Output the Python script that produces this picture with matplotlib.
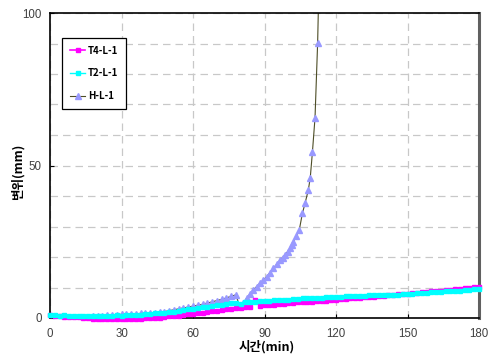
import numpy as np
from matplotlib import pyplot as plt
from matplotlib.ticker import MultipleLocator

# time (min) for the two dense series, one reading every 2 min
t_dense = list(range(0, 181, 2))

t4_l1 = [1.0, 0.8, 0.6, 0.4, 0.3, 0.3, 0.2, 0.1, 0.0, -0.2,
         -0.3, -0.3, -0.4, -0.3, -0.4, -0.3, -0.3, -0.2, -0.3, -0.2,
         -0.1, -0.1, 0.0, 0.1, 0.3, 0.5, 0.6, 0.8, 1.0, 1.2,
         1.4, 1.6, 1.8, 2.0, 2.2, 2.4, 2.6, 2.8, 3.0, 3.2,
         3.4, 3.5, 3.6, 5.9, 4.0, 4.2, 4.3, 4.4, 4.6, 4.7,
         4.8, 4.9, 5.1, 5.2, 5.3, 5.4, 5.5, 5.6, 5.7, 5.9,
         6.0, 6.1, 6.2, 6.4, 6.5, 6.6, 6.8, 6.9, 7.0, 7.2,
         7.3, 7.4, 7.6, 7.8, 7.9, 8.0, 8.2, 8.3, 8.4, 8.6,
         8.7, 8.8, 9.0, 9.1, 9.3, 9.4, 9.6, 9.7, 9.9, 10.1,
         10.3]

t2_l1 = [1.0, 0.9, 0.7, 0.9, 0.6, 0.8, 0.5, 0.7, 0.6, 0.5,
         0.7, 0.6, 0.8, 0.7, 0.9, 0.8, 1.0, 0.9, 1.1, 1.0,
         1.3, 1.4, 1.5, 1.6, 1.8, 1.9, 2.1, 2.3, 2.6, 2.8,
         3.0, 3.2, 3.5, 3.7, 4.0, 4.2, 4.4, 4.6, 4.8, 4.9,
         4.6, 5.1, 5.2, 5.3, 5.5, 5.6, 5.7, 5.8, 5.9, 6.0,
         6.0, 6.1, 6.3, 6.4, 6.5, 6.6, 6.6, 6.7, 6.8, 6.9,
         7.0, 7.0, 7.1, 7.1, 7.2, 7.3, 7.3, 7.4, 7.4, 7.5,
         7.6, 7.6, 7.7, 7.7, 7.8, 7.9, 8.0, 8.1, 8.2, 8.3,
         8.4, 8.5, 8.6, 8.7, 8.8, 8.9, 9.0, 9.2, 9.3, 9.5,
         9.6]

t_h = [0, 2, 4, 6, 8, 10, 12, 14, 16, 18,
       20, 22, 24, 26, 28, 30, 32, 34, 36, 38,
       40, 42, 44, 46, 48, 50, 52, 54, 56, 58,
       60, 62, 64, 66, 68, 70, 72, 74, 76, 78,
       79.5, 81, 82.5, 84, 85.3, 86.7, 88, 89.5, 90.9, 92.3,
       93.7, 95.1, 96.5, 97.6, 98.6, 99.7, 100.7, 101.4, 102.1, 103.4,
       104.6, 105.9, 107, 108.4, 109.2, 110.1, 111.2, 112.3, 112.7]
h_l1 = [0.1, 0.0, -0.1, 0.0, 0.1, 0.0, -0.1, 0.0, 0.2, 0.5,
        0.7, 0.8, 0.9, 1.0, 1.1, 1.2, 1.2, 1.3, 1.4, 1.5,
        1.5, 1.6, 1.7, 1.9, 2.1, 2.4, 2.7, 3.0, 3.3, 3.6,
        3.9, 4.2, 4.5, 4.9, 5.3, 5.7, 6.1, 6.6, 7.1, 7.6,
        4.0, 4.8, 6.5, 8.0, 9.2, 10.3, 11.4, 12.4, 13.5, 14.9,
        16.3, 17.6, 19.0, 19.8, 20.7, 21.8, 22.9, 23.9, 25.0, 27.0,
        28.9, 34.3, 37.6, 42.0, 46.0, 54.3, 65.7, 90.3, 105.0]

korean = ["Noto Sans CJK KR", "DejaVu Sans"]

fig = plt.figure(figsize=(4.89, 3.56), dpi=100)
ax = fig.add_axes([50 / 489, 1 - 318 / 356, 429 / 489, 305 / 356])

ax.plot(t_h, h_l1, color="#4d4d26", linewidth=0.8, marker="^",
        markersize=4.8, markerfacecolor="#9999ff", markeredgecolor="#9999ff",
        label="H-L-1", zorder=2)
ax.plot(t_dense, t4_l1, color="#ff00ff", linewidth=1.2, marker="s",
        markersize=3.5, markerfacecolor="#ff00ff", markeredgecolor="#ff00ff",
        label="T4-L-1", zorder=3, clip_on=False)
ax.plot(t_dense, t2_l1, color="#00ffff", linewidth=1.0, marker="s",
        markersize=2.6, markerfacecolor="#00ffff", markeredgecolor="#00ffff",
        label="T2-L-1", zorder=4, clip_on=False)

ax.set_xlim(0, 180)
ax.set_ylim(0, 100)
ax.xaxis.set_major_locator(MultipleLocator(30))
ax.yaxis.set_major_locator(MultipleLocator(50))
ax.yaxis.set_minor_locator(MultipleLocator(10))
ax.grid(which="both", color="#c8c8c8", linestyle=(0, (6, 4)), linewidth=0.9)
ax.set_axisbelow(True)
ax.tick_params(which="both", direction="in", length=3, width=0.8,
               labelsize=8.3, labelcolor="#404040")
ax.tick_params(axis="y", pad=6)
ax.tick_params(axis="x", pad=7)
ax.tick_params(which="minor", length=0)
for lab in ax.get_xticklabels() + ax.get_yticklabels():
    lab.set_family("Liberation Sans")

for side in ("left", "bottom", "top"):
    ax.spines[side].set_color("black")
    ax.spines[side].set_linewidth(1.2)
ax.spines["right"].set_color("#606060")
ax.spines["right"].set_linewidth(2.2)

ax.set_xlabel("시간(min)", family=korean, fontweight="bold", fontsize=9)
ax.set_ylabel("변위(mm)", family=korean, fontweight="bold", fontsize=9)
ax.xaxis.set_label_coords(0.506, -0.072)
ax.yaxis.set_label_coords(-0.06, 0.479)

handles, labels = ax.get_legend_handles_labels()
order = [1, 2, 0]
leg = ax.legend([handles[i] for i in order], [labels[i] for i in order],
                loc="upper left", bbox_to_anchor=(12 / 429, 1 - 25 / 305),
                fancybox=False, edgecolor="black", framealpha=1,
                prop={"family": korean, "weight": "bold", "size": 7},
                handlelength=1.6, handletextpad=0.3, labelspacing=1.3,
                borderpad=0.8, borderaxespad=0)
leg.get_frame().set_linewidth(0.9)

plt.savefig("out.png", dpi=100)
